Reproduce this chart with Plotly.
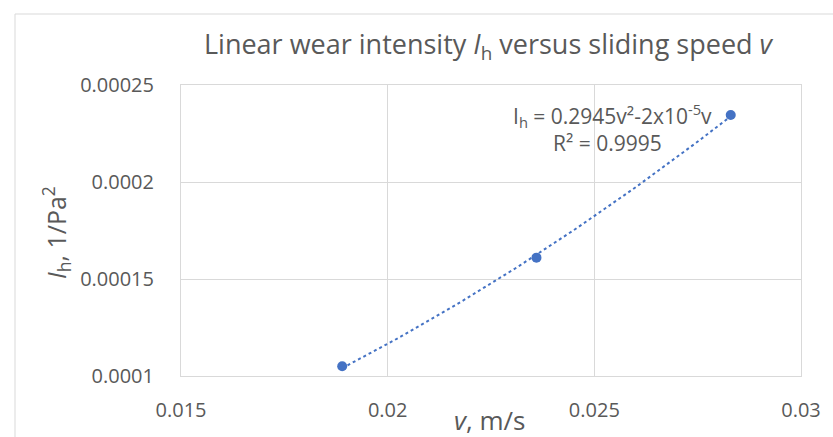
import numpy as np
import plotly.graph_objects as go

# Data
speed = [0.0189, 0.0236, 0.0283]          # v, m/s
intensity = [0.000105, 0.000161, 0.0002345]  # Ih, 1/Pa^2

x_tickvals = [0.015, 0.02, 0.025, 0.03]
x_ticktext = ["0.015", "0.02", "0.025", "0.03"]
y_tickvals = [0.0001, 0.00015, 0.0002, 0.00025]
y_ticktext = ["0.0001", "0.00015", "0.0002", "0.00025"]

equation_text = "I<sub>h</sub> = 0.2945v²-2x10<sup>-5</sup>v"
r2_text = "R² = 0.9995"

BLUE = "#4472C4"
GREY_TXT = "#595959"
GRID = "#d9d9d9"
FONT = "Open Sans"

# Polynomial trendline (through origin) fitted to the data
v = np.array(speed)
ih = np.array(intensity)
A = np.vstack([v**2, v]).T
coef, *_ = np.linalg.lstsq(A, ih, rcond=None)
vt = np.linspace(v.min(), v.max(), 60)
it = coef[0] * vt**2 + coef[1] * vt

fig = go.Figure()
fig.add_trace(go.Scatter(x=vt, y=it, mode="lines",
                         line=dict(color=BLUE, width=2, dash="dot"),
                         hoverinfo="skip", showlegend=False))
fig.add_trace(go.Scatter(x=speed, y=intensity, mode="markers",
                         marker=dict(color=BLUE, size=10),
                         showlegend=False))

W, H = 833, 437
L, R, T, B = 181, 32, 85, 61
pw, ph = W - L - R, H - T - B

def px(xp):
    return (xp - L) / pw

def py(yp):
    return (H - B - yp) / ph

fig.update_layout(
    width=W, height=H,
    margin=dict(l=L, r=R, t=T, b=B, autoexpand=False),
    paper_bgcolor="white", plot_bgcolor="white",
    font=dict(family=FONT, color=GREY_TXT, size=20),
    title=dict(text="Linear wear intensity <i>I</i><sub>h</sub> versus sliding speed <i>v</i>",
               x=488 / W, y=1 - 45 / H, xanchor="center", yanchor="middle",
               font=dict(size=27, color=GREY_TXT, family=FONT)),
    xaxis=dict(range=[0.015, 0.03], tickvals=x_tickvals, ticktext=x_ticktext,
               showgrid=True, gridcolor=GRID, gridwidth=1,
               showline=True, linecolor=GRID, linewidth=1, mirror=True,
               ticks="outside", ticklen=16, tickcolor="rgba(0,0,0,0)",
               zeroline=False, automargin=False,
               tickfont=dict(size=20, color=GREY_TXT)),
    yaxis=dict(range=[0.0001, 0.00025], tickvals=y_tickvals, ticktext=y_ticktext,
               showgrid=True, gridcolor=GRID, gridwidth=1,
               showline=True, linecolor=GRID, linewidth=1, mirror=True,
               ticks="outside", ticklen=22, tickcolor="rgba(0,0,0,0)",
               zeroline=False, automargin=False,
               tickfont=dict(size=20, color=GREY_TXT)),
    annotations=[
        dict(text=equation_text, xref="paper", yref="paper", x=px(612), y=py(116),
             xanchor="center", yanchor="middle", showarrow=False,
             font=dict(size=21, color=GREY_TXT, family=FONT)),
        dict(text=r2_text, xref="paper", yref="paper", x=px(607), y=py(143),
             xanchor="center", yanchor="middle", showarrow=False,
             font=dict(size=21, color=GREY_TXT, family=FONT)),
        dict(text="<i>v</i>, m/s", xref="paper", yref="paper", x=px(489), y=py(420),
             xanchor="center", yanchor="middle", showarrow=False,
             font=dict(size=26, color=GREY_TXT, family=FONT)),
        dict(text="<i>I</i><sub>h</sub>, 1/Pa<sup>2</sup>", xref="paper", yref="paper",
             x=px(56), y=py(233), textangle=-90,
             xanchor="center", yanchor="middle", showarrow=False,
             font=dict(size=25, color=GREY_TXT, family=FONT)),
    ],
    shapes=[
        dict(type="line", xref="paper", yref="paper", x0=px(15), x1=px(833), y0=py(14), y1=py(14),
             line=dict(color=GRID, width=1)),
        dict(type="line", xref="paper", yref="paper", x0=px(15), x1=px(15), y0=py(14), y1=py(437),
             line=dict(color=GRID, width=1)),
    ],
)

fig.write_html("out.html")
